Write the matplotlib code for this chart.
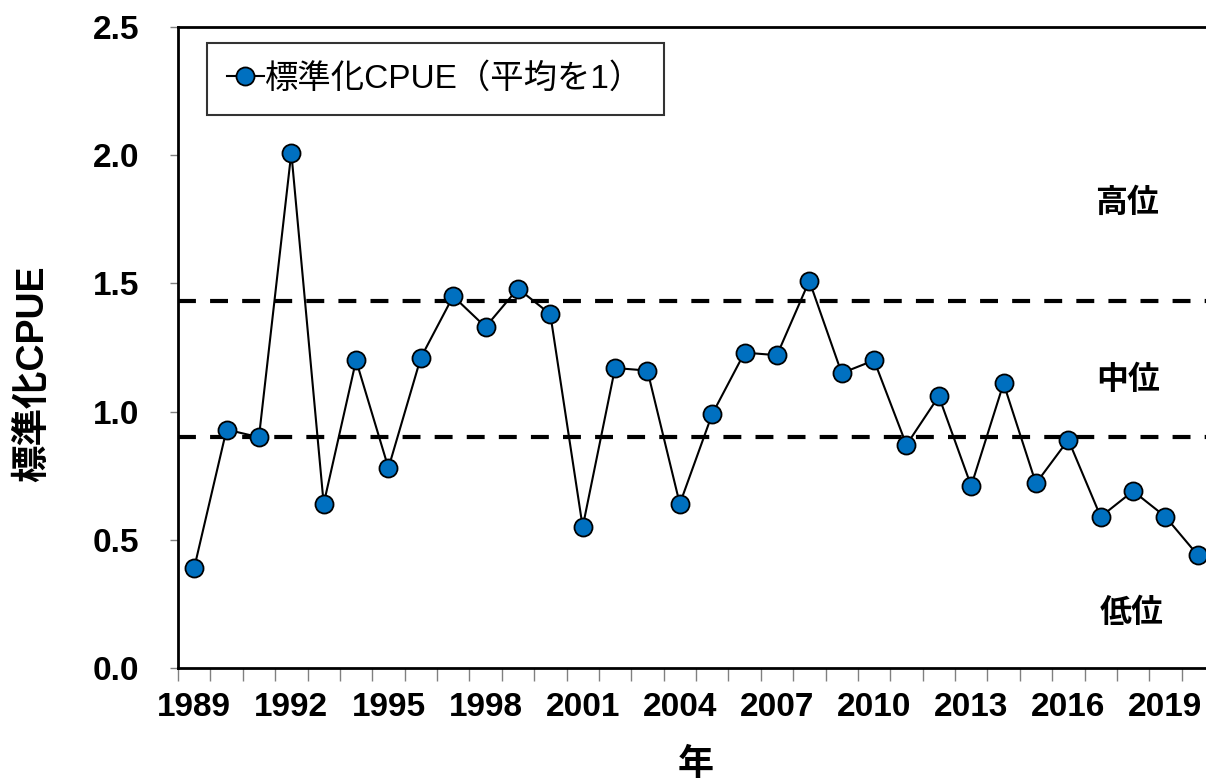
import numpy as np
import matplotlib.pyplot as plt

plt.rcParams['font.family'] = ['Liberation Sans', 'Noto Sans CJK JP']

# データ
years = np.arange(1989, 2021)
cpue = [0.39, 0.93, 0.90, 2.01, 0.64, 1.20, 0.78, 1.21, 1.45, 1.33,
        1.48, 1.38, 0.55, 1.17, 1.16, 0.64, 0.99, 1.23, 1.22, 1.51,
        1.15, 1.20, 0.87, 1.06, 0.71, 1.11, 0.72, 0.89, 0.59, 0.69,
        0.59, 0.44]
upper = 1.43   # 高位/中位の境界
lower = 0.90   # 中位/低位の境界
level_labels = ['高位', '中位', '低位']
level_x = [2017.8, 2017.85, 2017.95]
level_y = [1.81, 1.12, 0.21]

fig = plt.figure(figsize=(12.06, 7.83), dpi=100)
ax = fig.add_axes([178/1206, 1 - 668/783, (1214 - 178)/1206, (668 - 27)/783])

ax.axhline(upper, color='black', lw=3, dashes=(4.3, 3.4), zorder=1)
ax.axhline(lower, color='black', lw=3, dashes=(4.3, 3.4), zorder=1)

ax.plot(years, cpue, color='black', lw=1.5, marker='o', ms=13,
        mfc='#0070C0', mec='black', mew=1.3, label='標準化CPUE（平均を1）', zorder=3)

for lab, xv, yv in zip(level_labels, level_x, level_y):
    ax.text(xv, yv, lab, fontsize=23, fontweight='bold', ha='center', va='center')

ax.set_xlim(1988.5, 2020.5)
ax.set_ylim(0, 2.5)
ax.set_yticks(np.arange(0, 2.51, 0.5))
ax.set_yticklabels([f'{v:.1f}' for v in np.arange(0, 2.51, 0.5)])
ax.set_xticks(np.arange(1989, 2020, 3))
ax.set_xticks(np.arange(1988.5, 2021, 1), minor=True)
ax.tick_params(axis='x', which='major', length=0, pad=17, labelsize=24)
ax.tick_params(axis='x', which='minor', length=9, width=1, color='#808080')
ax.tick_params(axis='y', length=6, width=1, color='#808080', pad=22, labelsize=24)
for lbl in ax.get_xticklabels() + ax.get_yticklabels():
    lbl.set_fontweight('bold')

for s in ['left', 'bottom', 'top']:
    ax.spines[s].set_linewidth(2)
ax.spines['right'].set_visible(False)

ax.set_ylabel('標準化CPUE', fontsize=27, fontweight='bold')
ax.yaxis.set_label_coords(-0.122, 0.459)
ax.set_xlabel('年', fontsize=26, fontweight='bold', labelpad=18)

leg = ax.legend(loc='upper left', bbox_to_anchor=(0.028, 0.975), fontsize=24,
                frameon=True, fancybox=False, edgecolor='black', handlelength=1.1,
                handletextpad=0.05, borderpad=0.6, borderaxespad=0)
leg.get_frame().set_linewidth(1.5)

fig.savefig('out.png', dpi=100)
